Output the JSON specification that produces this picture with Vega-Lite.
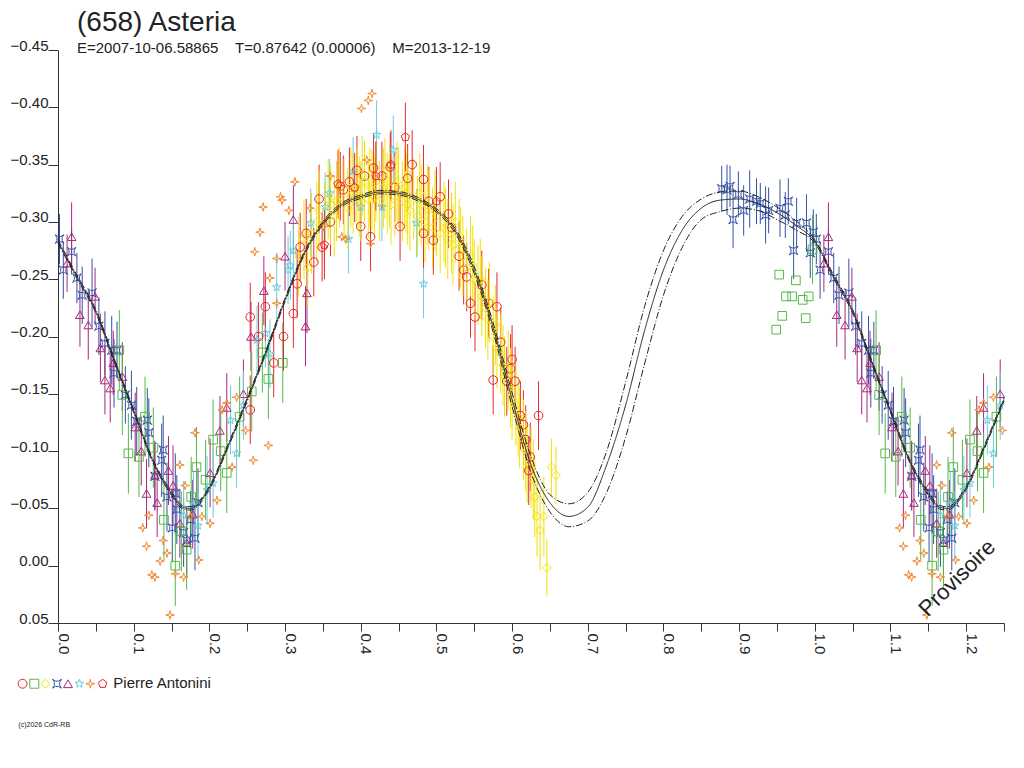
{
  "$schema": "https://vega.github.io/schema/vega-lite/v6.json",
  "autosize": "none",
  "padding": {"left": 58, "top": 50, "right": 20, "bottom": 145},
  "width": 946,
  "height": 573,
  "background": "white",
  "title": {
    "text": "(658) Asteria",
    "subtitle": "E=2007-10-06.58865\u00a0\u00a0\u00a0\u00a0T=0.87642 (0.00006)\u00a0\u00a0\u00a0\u00a0M=2013-12-19",
    "anchor": "start",
    "frame": "group",
    "dx": 19,
    "offset": -18,
    "font": "Liberation Sans",
    "fontSize": 28,
    "fontWeight": "normal",
    "color": "#222",
    "subtitleFont": "Liberation Sans",
    "subtitleFontSize": 15,
    "subtitleColor": "#222",
    "subtitlePadding": 4
  },
  "config": {
    "view": {"stroke": null},
    "axis": {
      "grid": false,
      "domainColor": "#333",
      "tickColor": "#333",
      "labelColor": "#222",
      "labelFont": "Liberation Sans",
      "labelFontSize": 15,
      "labelFlush": false,
      "labelOverlap": false
    }
  },
  "datasets": {
    "obs": [
      {"p":0.002,"m":-0.285,"e":0.022,"s":"d"},{"p":0.007,"m":-0.258,"e":0.025,"s":"d"},{"p":0.018,"m":-0.274,"e":0.02,"s":"d"},
      {"p":0.025,"m":-0.251,"e":0.022,"s":"d"},{"p":0.032,"m":-0.236,"e":0.025,"s":"d"},{"p":0.045,"m":-0.238,"e":0.03,"s":"d"},
      {"p":0.054,"m":-0.209,"e":0.025,"s":"d"},{"p":0.062,"m":-0.194,"e":0.028,"s":"d"},{"p":0.071,"m":-0.188,"e":0.03,"s":"d"},
      {"p":0.078,"m":-0.188,"e":0.025,"s":"d"},{"p":0.074,"m":-0.168,"e":0.03,"s":"d"},{"p":0.089,"m":-0.149,"e":0.025,"s":"d"},
      {"p":0.097,"m":-0.14,"e":0.03,"s":"d"},{"p":0.104,"m":-0.126,"e":0.03,"s":"d"},{"p":0.118,"m":-0.127,"e":0.028,"s":"d"},
      {"p":0.12,"m":-0.116,"e":0.03,"s":"d"},{"p":0.128,"m":-0.078,"e":0.03,"s":"d"},{"p":0.137,"m":-0.092,"e":0.032,"s":"d"},
      {"p":0.139,"m":-0.101,"e":0.03,"s":"d"},{"p":0.144,"m":-0.06,"e":0.03,"s":"d"},{"p":0.151,"m":-0.033,"e":0.03,"s":"d"},
      {"p":0.155,"m":-0.063,"e":0.035,"s":"d"},{"p":0.157,"m":-0.049,"e":0.03,"s":"d"},{"p":0.166,"m":-0.029,"e":0.03,"s":"d"},
      {"p":0.17,"m":-0.022,"e":0.03,"s":"d"},{"p":0.175,"m":-0.04,"e":0.025,"s":"d"},{"p":0.181,"m":-0.024,"e":0.028,"s":"d"},
      {"p":0.185,"m":-0.055,"e":0.03,"s":"d"},
      {"p":0.877,"m":-0.329,"e":0.02,"s":"d"},{"p":0.884,"m":-0.328,"e":0.022,"s":"d"},{"p":0.888,"m":-0.331,"e":0.018,"s":"d"},
      {"p":0.892,"m":-0.302,"e":0.025,"s":"d"},{"p":0.899,"m":-0.324,"e":0.02,"s":"d"},{"p":0.906,"m":-0.31,"e":0.022,"s":"d"},
      {"p":0.914,"m":-0.32,"e":0.025,"s":"d"},{"p":0.923,"m":-0.318,"e":0.02,"s":"d"},{"p":0.928,"m":-0.316,"e":0.018,"s":"d"},
      {"p":0.935,"m":-0.306,"e":0.025,"s":"d"},{"p":0.939,"m":-0.31,"e":0.02,"s":"d"},{"p":0.954,"m":-0.312,"e":0.025,"s":"d"},
      {"p":0.961,"m":-0.306,"e":0.02,"s":"d"},{"p":0.965,"m":-0.318,"e":0.02,"s":"d"},{"p":0.972,"m":-0.275,"e":0.025,"s":"d"},
      {"p":0.976,"m":-0.299,"e":0.022,"s":"d"},{"p":0.989,"m":-0.299,"e":0.025,"s":"d"},{"p":0.994,"m":-0.273,"e":0.022,"s":"d"},
      {"p":0.998,"m":-0.291,"e":0.02,"s":"d"},
      {"p":1.002,"m":-0.285,"e":0.022,"s":"d"},{"p":1.007,"m":-0.258,"e":0.025,"s":"d"},{"p":1.018,"m":-0.274,"e":0.02,"s":"d"},
      {"p":1.025,"m":-0.251,"e":0.022,"s":"d"},{"p":1.032,"m":-0.236,"e":0.025,"s":"d"},{"p":1.045,"m":-0.238,"e":0.03,"s":"d"},
      {"p":1.054,"m":-0.209,"e":0.025,"s":"d"},{"p":1.062,"m":-0.194,"e":0.028,"s":"d"},{"p":1.071,"m":-0.188,"e":0.03,"s":"d"},
      {"p":1.078,"m":-0.188,"e":0.025,"s":"d"},{"p":1.074,"m":-0.168,"e":0.03,"s":"d"},{"p":1.089,"m":-0.149,"e":0.025,"s":"d"},
      {"p":1.097,"m":-0.14,"e":0.03,"s":"d"},{"p":1.104,"m":-0.126,"e":0.03,"s":"d"},{"p":1.118,"m":-0.127,"e":0.028,"s":"d"},
      {"p":1.12,"m":-0.116,"e":0.03,"s":"d"},{"p":1.128,"m":-0.078,"e":0.03,"s":"d"},{"p":1.137,"m":-0.092,"e":0.032,"s":"d"},
      {"p":1.139,"m":-0.101,"e":0.03,"s":"d"},{"p":1.144,"m":-0.06,"e":0.03,"s":"d"},{"p":1.151,"m":-0.033,"e":0.03,"s":"d"},
      {"p":1.155,"m":-0.063,"e":0.035,"s":"d"},{"p":1.157,"m":-0.049,"e":0.03,"s":"d"},{"p":1.166,"m":-0.029,"e":0.03,"s":"d"},
      {"p":1.17,"m":-0.022,"e":0.03,"s":"d"},{"p":1.175,"m":-0.04,"e":0.025,"s":"d"},{"p":1.181,"m":-0.024,"e":0.028,"s":"d"},
      {"p":1.185,"m":-0.055,"e":0.03,"s":"d"},

      {"p":0.012,"m":-0.264,"e":0.025,"s":"f"},{"p":0.018,"m":-0.287,"e":0.03,"s":"f"},{"p":0.029,"m":-0.219,"e":0.028,"s":"f"},
      {"p":0.04,"m":-0.21,"e":0.03,"s":"f"},{"p":0.049,"m":-0.235,"e":0.025,"s":"f"},{"p":0.056,"m":-0.19,"e":0.03,"s":"f"},
      {"p":0.062,"m":-0.162,"e":0.03,"s":"f"},{"p":0.069,"m":-0.155,"e":0.03,"s":"f"},{"p":0.073,"m":-0.177,"e":0.028,"s":"f"},
      {"p":0.085,"m":-0.165,"e":0.03,"s":"f"},{"p":0.102,"m":-0.121,"e":0.03,"s":"f"},{"p":0.11,"m":-0.1,"e":0.03,"s":"f"},
      {"p":0.117,"m":-0.063,"e":0.03,"s":"f"},{"p":0.128,"m":-0.079,"e":0.03,"s":"f"},{"p":0.131,"m":-0.055,"e":0.03,"s":"f"},
      {"p":0.146,"m":-0.083,"e":0.03,"s":"f"},{"p":0.152,"m":-0.07,"e":0.035,"s":"f"},{"p":0.161,"m":-0.037,"e":0.03,"s":"f"},
      {"p":0.17,"m":-0.02,"e":0.03,"s":"f"},{"p":0.178,"m":-0.045,"e":0.03,"s":"f"},{"p":0.201,"m":-0.081,"e":0.03,"s":"f"},
      {"p":0.214,"m":-0.118,"e":0.03,"s":"f"},{"p":0.223,"m":-0.138,"e":0.03,"s":"f"},{"p":0.245,"m":-0.15,"e":0.03,"s":"f"},
      {"p":0.255,"m":-0.2,"e":0.03,"s":"f"},{"p":0.272,"m":-0.24,"e":0.03,"s":"f"},{"p":0.3,"m":-0.27,"e":0.03,"s":"f"},
      {"p":0.311,"m":-0.302,"e":0.03,"s":"f"},{"p":0.327,"m":-0.209,"e":0.035,"s":"f"},{"p":0.329,"m":-0.238,"e":0.035,"s":"f"},
      {"p":1.012,"m":-0.264,"e":0.025,"s":"f"},{"p":1.018,"m":-0.287,"e":0.03,"s":"f"},{"p":1.029,"m":-0.219,"e":0.028,"s":"f"},
      {"p":1.04,"m":-0.21,"e":0.03,"s":"f"},{"p":1.049,"m":-0.235,"e":0.025,"s":"f"},{"p":1.056,"m":-0.19,"e":0.03,"s":"f"},
      {"p":1.062,"m":-0.162,"e":0.03,"s":"f"},{"p":1.069,"m":-0.155,"e":0.03,"s":"f"},{"p":1.073,"m":-0.177,"e":0.028,"s":"f"},
      {"p":1.085,"m":-0.165,"e":0.03,"s":"f"},{"p":1.102,"m":-0.121,"e":0.03,"s":"f"},{"p":1.11,"m":-0.1,"e":0.03,"s":"f"},
      {"p":1.117,"m":-0.063,"e":0.03,"s":"f"},{"p":1.128,"m":-0.079,"e":0.03,"s":"f"},{"p":1.131,"m":-0.055,"e":0.03,"s":"f"},
      {"p":1.146,"m":-0.083,"e":0.03,"s":"f"},{"p":1.152,"m":-0.07,"e":0.035,"s":"f"},{"p":1.161,"m":-0.037,"e":0.03,"s":"f"},
      {"p":1.17,"m":-0.02,"e":0.03,"s":"f"},{"p":1.178,"m":-0.045,"e":0.03,"s":"f"},{"p":1.201,"m":-0.081,"e":0.03,"s":"f"},
      {"p":1.214,"m":-0.118,"e":0.03,"s":"f"},{"p":1.223,"m":-0.138,"e":0.03,"s":"f"},{"p":1.245,"m":-0.15,"e":0.03,"s":"f"},

      {"p":0.081,"m":-0.188,"e":0.035,"s":"b"},{"p":0.085,"m":-0.149,"e":0.035,"s":"b"},{"p":0.093,"m":-0.098,"e":0.035,"s":"b"},
      {"p":0.107,"m":-0.095,"e":0.035,"s":"b"},{"p":0.115,"m":-0.13,"e":0.035,"s":"b"},{"p":0.126,"m":-0.103,"e":0.035,"s":"b"},
      {"p":0.14,"m":-0.04,"e":0.035,"s":"b"},{"p":0.155,"m":0.0,"e":0.035,"s":"b"},{"p":0.163,"m":-0.03,"e":0.035,"s":"b"},
      {"p":0.17,"m":-0.014,"e":0.035,"s":"b"},{"p":0.176,"m":-0.06,"e":0.035,"s":"b"},{"p":0.183,"m":-0.086,"e":0.035,"s":"b"},
      {"p":0.195,"m":-0.075,"e":0.035,"s":"b"},{"p":0.205,"m":-0.11,"e":0.035,"s":"b"},{"p":0.215,"m":-0.1,"e":0.035,"s":"b"},
      {"p":0.223,"m":-0.081,"e":0.035,"s":"b"},{"p":0.24,"m":-0.13,"e":0.035,"s":"b"},
      {"p":0.256,"m":-0.152,"e":0.035,"s":"b"},{"p":0.27,"m":-0.186,"e":0.035,"s":"b"},{"p":0.278,"m":-0.163,"e":0.035,"s":"b"},
      {"p":0.297,"m":-0.177,"e":0.035,"s":"b"},{"p":0.997,"m":-0.276,"e":0.03,"s":"b"},
      {"p":0.949,"m":-0.206,"e":0,"s":"b"},{"p":0.953,"m":-0.254,"e":0,"s":"b"},{"p":0.957,"m":-0.218,"e":0,"s":"b"},
      {"p":0.962,"m":-0.235,"e":0,"s":"b"},{"p":0.97,"m":-0.235,"e":0,"s":"b"},{"p":0.975,"m":-0.249,"e":0,"s":"b"},
      {"p":0.984,"m":-0.232,"e":0,"s":"b"},{"p":0.988,"m":-0.216,"e":0,"s":"b"},{"p":0.992,"m":-0.235,"e":0,"s":"b"},
      {"p":1.081,"m":-0.188,"e":0.035,"s":"b"},{"p":1.085,"m":-0.149,"e":0.035,"s":"b"},{"p":1.093,"m":-0.098,"e":0.035,"s":"b"},
      {"p":1.107,"m":-0.095,"e":0.035,"s":"b"},{"p":1.115,"m":-0.13,"e":0.035,"s":"b"},{"p":1.126,"m":-0.103,"e":0.035,"s":"b"},
      {"p":1.14,"m":-0.04,"e":0.035,"s":"b"},{"p":1.155,"m":0.0,"e":0.035,"s":"b"},{"p":1.163,"m":-0.03,"e":0.035,"s":"b"},
      {"p":1.17,"m":-0.014,"e":0.035,"s":"b"},{"p":1.176,"m":-0.06,"e":0.035,"s":"b"},{"p":1.183,"m":-0.086,"e":0.035,"s":"b"},
      {"p":1.195,"m":-0.075,"e":0.035,"s":"b"},{"p":1.205,"m":-0.11,"e":0.035,"s":"b"},{"p":1.215,"m":-0.1,"e":0.035,"s":"b"},
      {"p":1.223,"m":-0.081,"e":0.035,"s":"b"},{"p":1.24,"m":-0.13,"e":0.035,"s":"b"},

      {"p":0.166,"m":-0.044,"e":0.03,"s":"g"},{"p":0.179,"m":-0.053,"e":0.03,"s":"g"},{"p":0.185,"m":-0.035,"e":0.03,"s":"g"},
      {"p":0.197,"m":-0.066,"e":0.03,"s":"g"},{"p":0.205,"m":-0.072,"e":0.03,"s":"g"},{"p":0.228,"m":-0.127,"e":0.03,"s":"g"},
      {"p":0.236,"m":-0.098,"e":0.03,"s":"g"},{"p":0.245,"m":-0.14,"e":0.03,"s":"g"},{"p":0.263,"m":-0.197,"e":0.03,"s":"g"},
      {"p":0.274,"m":-0.203,"e":0.03,"s":"g"},{"p":0.28,"m":-0.185,"e":0.03,"s":"g"},{"p":0.289,"m":-0.243,"e":0.03,"s":"g"},
      {"p":0.304,"m":-0.258,"e":0.03,"s":"g"},{"p":0.307,"m":-0.262,"e":0.03,"s":"g"},{"p":0.311,"m":-0.275,"e":0.03,"s":"g"},
      {"p":0.334,"m":-0.299,"e":0.03,"s":"g"},{"p":0.353,"m":-0.313,"e":0.03,"s":"g"},{"p":0.359,"m":-0.325,"e":0.03,"s":"g"},
      {"p":0.384,"m":-0.285,"e":0.03,"s":"g"},{"p":0.39,"m":-0.344,"e":0.03,"s":"g"},{"p":0.4,"m":-0.313,"e":0.03,"s":"g"},
      {"p":0.421,"m":-0.376,"e":0.03,"s":"g"},{"p":0.428,"m":-0.313,"e":0.03,"s":"g"},{"p":0.443,"m":-0.363,"e":0.03,"s":"g"},
      {"p":0.474,"m":-0.299,"e":0.03,"s":"g"},{"p":0.483,"m":-0.246,"e":0.03,"s":"g"},
      {"p":1.166,"m":-0.044,"e":0.03,"s":"g"},{"p":1.179,"m":-0.053,"e":0.03,"s":"g"},{"p":1.185,"m":-0.035,"e":0.03,"s":"g"},
      {"p":1.197,"m":-0.066,"e":0.03,"s":"g"},{"p":1.205,"m":-0.072,"e":0.03,"s":"g"},{"p":1.228,"m":-0.127,"e":0.03,"s":"g"},
      {"p":1.236,"m":-0.098,"e":0.03,"s":"g"},{"p":1.245,"m":-0.14,"e":0.03,"s":"g"},

      {"p":0.254,"m":-0.217,"e":0.03,"s":"a"},{"p":0.254,"m":-0.136,"e":0.03,"s":"a"},{"p":0.265,"m":-0.2,"e":0.03,"s":"a"},
      {"p":0.274,"m":-0.226,"e":0.03,"s":"a"},{"p":0.285,"m":-0.177,"e":0.03,"s":"a"},{"p":0.298,"m":-0.2,"e":0.03,"s":"a"},
      {"p":0.311,"m":-0.22,"e":0.03,"s":"a"},{"p":0.316,"m":-0.246,"e":0.03,"s":"a"},{"p":0.32,"m":-0.278,"e":0.03,"s":"a"},
      {"p":0.338,"m":-0.265,"e":0.03,"s":"a"},{"p":0.349,"m":-0.278,"e":0.03,"s":"a"},{"p":0.36,"m":-0.3,"e":0.03,"s":"a"},
      {"p":0.373,"m":-0.331,"e":0.03,"s":"a"},{"p":0.377,"m":-0.328,"e":0.03,"s":"a"},{"p":0.395,"m":-0.345,"e":0.03,"s":"a"},
      {"p":0.4,"m":-0.296,"e":0.03,"s":"a"},{"p":0.413,"m":-0.287,"e":0.03,"s":"a"},{"p":0.417,"m":-0.347,"e":0.03,"s":"a"},
      {"p":0.439,"m":-0.348,"e":0.03,"s":"a"},{"p":0.452,"m":-0.296,"e":0.03,"s":"a"},{"p":0.468,"m":-0.35,"e":0.03,"s":"a"},
      {"p":0.483,"m":-0.337,"e":0.03,"s":"a"},{"p":0.483,"m":-0.29,"e":0.03,"s":"a"},{"p":0.496,"m":-0.284,"e":0.03,"s":"a"},
      {"p":0.505,"m":-0.322,"e":0.03,"s":"a"},{"p":0.516,"m":-0.307,"e":0.03,"s":"a"},{"p":0.536,"m":-0.258,"e":0.03,"s":"a"},
      {"p":0.54,"m":-0.252,"e":0.03,"s":"a"},{"p":0.545,"m":-0.229,"e":0.03,"s":"a"},{"p":0.551,"m":-0.217,"e":0.03,"s":"a"},
      {"p":0.569,"m":-0.229,"e":0.03,"s":"a"},{"p":0.575,"m":-0.162,"e":0.03,"s":"a"},{"p":0.58,"m":-0.226,"e":0.03,"s":"a"},
      {"p":0.593,"m":-0.161,"e":0.03,"s":"a"},{"p":0.598,"m":-0.172,"e":0.03,"s":"a"},{"p":0.604,"m":-0.161,"e":0.03,"s":"a"},
      {"p":0.611,"m":-0.131,"e":0.03,"s":"a"},{"p":0.615,"m":-0.123,"e":0.03,"s":"a"},{"p":0.622,"m":-0.083,"e":0.03,"s":"a"},
      {"p":0.624,"m":-0.095,"e":0.03,"s":"a"},{"p":0.635,"m":-0.131,"e":0.03,"s":"a"},
      {"p":0.328,"m":-0.29,"e":0.03,"s":"a"},{"p":0.345,"m":-0.32,"e":0.03,"s":"a"},{"p":0.385,"m":-0.335,"e":0.03,"s":"a"},
      {"p":0.405,"m":-0.34,"e":0.03,"s":"a"},{"p":0.428,"m":-0.34,"e":0.03,"s":"a"},{"p":0.445,"m":-0.33,"e":0.03,"s":"a"},
      {"p":0.462,"m":-0.338,"e":0.03,"s":"a"},{"p":0.49,"m":-0.318,"e":0.03,"s":"a"},{"p":0.52,"m":-0.295,"e":0.03,"s":"a"},
      {"p":0.53,"m":-0.27,"e":0.03,"s":"a"},{"p":0.56,"m":-0.245,"e":0.03,"s":"a"},{"p":0.585,"m":-0.195,"e":0.03,"s":"a"},
      {"p":0.6,"m":-0.18,"e":0.03,"s":"a"},{"p":0.618,"m":-0.11,"e":0.03,"s":"a"},

      {"p":0.318,"m":-0.27,"e":0.035,"s":"c"},{"p":0.325,"m":-0.285,"e":0.035,"s":"c"},{"p":0.33,"m":-0.26,"e":0.035,"s":"c"},
      {"p":0.335,"m":-0.29,"e":0.035,"s":"c"},{"p":0.345,"m":-0.31,"e":0.035,"s":"c"},{"p":0.352,"m":-0.3,"e":0.035,"s":"c"},
      {"p":0.36,"m":-0.315,"e":0.035,"s":"c"},{"p":0.365,"m":-0.305,"e":0.035,"s":"c"},{"p":0.372,"m":-0.33,"e":0.035,"s":"c"},
      {"p":0.378,"m":-0.32,"e":0.035,"s":"c"},{"p":0.383,"m":-0.312,"e":0.035,"s":"c"},{"p":0.39,"m":-0.325,"e":0.035,"s":"c"},
      {"p":0.395,"m":-0.33,"e":0.035,"s":"c"},{"p":0.4,"m":-0.318,"e":0.035,"s":"c"},{"p":0.405,"m":-0.335,"e":0.035,"s":"c"},
      {"p":0.41,"m":-0.32,"e":0.035,"s":"c"},{"p":0.415,"m":-0.328,"e":0.035,"s":"c"},{"p":0.42,"m":-0.335,"e":0.035,"s":"c"},
      {"p":0.425,"m":-0.318,"e":0.035,"s":"c"},{"p":0.43,"m":-0.33,"e":0.035,"s":"c"},{"p":0.435,"m":-0.325,"e":0.035,"s":"c"},
      {"p":0.44,"m":-0.315,"e":0.035,"s":"c"},{"p":0.445,"m":-0.322,"e":0.035,"s":"c"},{"p":0.45,"m":-0.33,"e":0.035,"s":"c"},
      {"p":0.455,"m":-0.318,"e":0.035,"s":"c"},{"p":0.46,"m":-0.325,"e":0.035,"s":"c"},{"p":0.465,"m":-0.31,"e":0.035,"s":"c"},
      {"p":0.47,"m":-0.32,"e":0.035,"s":"c"},{"p":0.475,"m":-0.305,"e":0.035,"s":"c"},{"p":0.48,"m":-0.315,"e":0.035,"s":"c"},
      {"p":0.485,"m":-0.3,"e":0.035,"s":"c"},{"p":0.49,"m":-0.31,"e":0.035,"s":"c"},{"p":0.495,"m":-0.295,"e":0.035,"s":"c"},
      {"p":0.5,"m":-0.305,"e":0.035,"s":"c"},{"p":0.505,"m":-0.29,"e":0.035,"s":"c"},{"p":0.51,"m":-0.3,"e":0.035,"s":"c"},
      {"p":0.515,"m":-0.285,"e":0.035,"s":"c"},{"p":0.52,"m":-0.29,"e":0.035,"s":"c"},{"p":0.525,"m":-0.3,"e":0.035,"s":"c"},
      {"p":0.53,"m":-0.285,"e":0.035,"s":"c"},{"p":0.535,"m":-0.27,"e":0.035,"s":"c"},{"p":0.54,"m":-0.26,"e":0.035,"s":"c"},
      {"p":0.545,"m":-0.27,"e":0.035,"s":"c"},{"p":0.55,"m":-0.25,"e":0.035,"s":"c"},{"p":0.555,"m":-0.245,"e":0.035,"s":"c"},
      {"p":0.56,"m":-0.235,"e":0.035,"s":"c"},{"p":0.565,"m":-0.225,"e":0.035,"s":"c"},{"p":0.57,"m":-0.23,"e":0.035,"s":"c"},
      {"p":0.575,"m":-0.2,"e":0.035,"s":"c"},{"p":0.58,"m":-0.19,"e":0.035,"s":"c"},{"p":0.585,"m":-0.185,"e":0.035,"s":"c"},
      {"p":0.59,"m":-0.165,"e":0.035,"s":"c"},{"p":0.595,"m":-0.17,"e":0.035,"s":"c"},{"p":0.6,"m":-0.145,"e":0.035,"s":"c"},
      {"p":0.605,"m":-0.14,"e":0.035,"s":"c"},{"p":0.61,"m":-0.12,"e":0.035,"s":"c"},{"p":0.615,"m":-0.11,"e":0.035,"s":"c"},
      {"p":0.62,"m":-0.09,"e":0.035,"s":"c"},{"p":0.625,"m":-0.085,"e":0.035,"s":"c"},{"p":0.628,"m":-0.075,"e":0.035,"s":"c"},
      {"p":0.633,"m":-0.043,"e":0.035,"s":"c"},{"p":0.637,"m":-0.031,"e":0.035,"s":"c"},{"p":0.642,"m":-0.043,"e":0.035,"s":"c"},
      {"p":0.646,"m":0.002,"e":0.025,"s":"c"},{"p":0.652,"m":-0.086,"e":0.025,"s":"c"},{"p":0.658,"m":-0.079,"e":0.025,"s":"c"},
      {"p":0.342,"m":-0.3,"e":0.035,"s":"c"},{"p":0.357,"m":-0.32,"e":0.035,"s":"c"},{"p":0.368,"m":-0.318,"e":0.035,"s":"c"},
      {"p":0.387,"m":-0.33,"e":0.035,"s":"c"},{"p":0.398,"m":-0.322,"e":0.035,"s":"c"},{"p":0.402,"m":-0.34,"e":0.035,"s":"c"},
      {"p":0.412,"m":-0.33,"e":0.035,"s":"c"},{"p":0.418,"m":-0.322,"e":0.035,"s":"c"},{"p":0.432,"m":-0.338,"e":0.035,"s":"c"},
      {"p":0.438,"m":-0.33,"e":0.035,"s":"c"},{"p":0.448,"m":-0.335,"e":0.035,"s":"c"},{"p":0.458,"m":-0.33,"e":0.035,"s":"c"},
      {"p":0.462,"m":-0.315,"e":0.035,"s":"c"},{"p":0.478,"m":-0.325,"e":0.035,"s":"c"},{"p":0.488,"m":-0.315,"e":0.035,"s":"c"},
      {"p":0.498,"m":-0.31,"e":0.035,"s":"c"},{"p":0.512,"m":-0.295,"e":0.035,"s":"c"},{"p":0.522,"m":-0.28,"e":0.035,"s":"c"},
      {"p":0.532,"m":-0.278,"e":0.035,"s":"c"},{"p":0.548,"m":-0.262,"e":0.035,"s":"c"},{"p":0.558,"m":-0.25,"e":0.035,"s":"c"},
      {"p":0.568,"m":-0.215,"e":0.035,"s":"c"},{"p":0.578,"m":-0.21,"e":0.035,"s":"c"},{"p":0.588,"m":-0.175,"e":0.035,"s":"c"},
      {"p":0.598,"m":-0.155,"e":0.035,"s":"c"},{"p":0.608,"m":-0.13,"e":0.035,"s":"c"},{"p":0.618,"m":-0.1,"e":0.035,"s":"c"},
      {"p":0.63,"m":-0.06,"e":0.035,"s":"c"},

      {"p":0.112,"m":-0.033,"e":0,"s":"h"},{"p":0.117,"m":-0.017,"e":0,"s":"h"},{"p":0.12,"m":-0.044,"e":0,"s":"h"},
      {"p":0.124,"m":0.008,"e":0,"s":"h"},{"p":0.128,"m":0.01,"e":0,"s":"h"},{"p":0.135,"m":-0.004,"e":0,"s":"h"},
      {"p":0.139,"m":-0.022,"e":0,"s":"h"},{"p":0.144,"m":-0.011,"e":0,"s":"h"},{"p":0.148,"m":0.043,"e":0,"s":"h"},
      {"p":0.155,"m":0.007,"e":0,"s":"h"},{"p":0.161,"m":-0.088,"e":0,"s":"h"},{"p":0.166,"m":0.01,"e":0,"s":"h"},
      {"p":0.168,"m":-0.07,"e":0,"s":"h"},{"p":0.175,"m":-0.043,"e":0,"s":"h"},{"p":0.181,"m":-0.116,"e":0,"s":"h"},
      {"p":0.186,"m":-0.005,"e":0,"s":"h"},{"p":0.19,"m":-0.043,"e":0,"s":"h"},{"p":0.201,"m":-0.037,"e":0,"s":"h"},
      {"p":0.21,"m":-0.057,"e":0,"s":"h"},{"p":0.217,"m":-0.136,"e":0,"s":"h"},{"p":0.223,"m":-0.142,"e":0,"s":"h"},
      {"p":0.23,"m":-0.086,"e":0,"s":"h"},{"p":0.236,"m":-0.147,"e":0,"s":"h"},{"p":0.248,"m":-0.118,"e":0,"s":"h"},
      {"p":0.258,"m":-0.092,"e":0,"s":"h"},{"p":0.26,"m":-0.274,"e":0,"s":"h"},{"p":0.267,"m":-0.291,"e":0,"s":"h"},
      {"p":0.271,"m":-0.313,"e":0,"s":"h"},{"p":0.278,"m":-0.105,"e":0,"s":"h"},{"p":0.28,"m":-0.251,"e":0,"s":"h"},
      {"p":0.289,"m":-0.268,"e":0,"s":"h"},{"p":0.289,"m":-0.229,"e":0,"s":"h"},{"p":0.294,"m":-0.322,"e":0,"s":"h"},
      {"p":0.296,"m":-0.319,"e":0,"s":"h"},{"p":0.305,"m":-0.31,"e":0,"s":"h"},{"p":0.313,"m":-0.335,"e":0,"s":"h"},
      {"p":0.333,"m":-0.312,"e":0,"s":"h"},{"p":0.351,"m":-0.296,"e":0,"s":"h"},{"p":0.36,"m":-0.34,"e":0,"s":"h"},
      {"p":0.375,"m":-0.287,"e":0,"s":"h"},{"p":0.38,"m":-0.285,"e":0,"s":"h"},{"p":0.401,"m":-0.399,"e":0,"s":"h"},
      {"p":0.408,"m":-0.354,"e":0,"s":"h"},{"p":0.41,"m":-0.406,"e":0,"s":"h"},{"p":0.413,"m":-0.281,"e":0,"s":"h"},
      {"p":0.415,"m":-0.412,"e":0,"s":"h"},
      {"p":1.112,"m":-0.033,"e":0,"s":"h"},{"p":1.117,"m":-0.017,"e":0,"s":"h"},{"p":1.12,"m":-0.044,"e":0,"s":"h"},
      {"p":1.124,"m":0.008,"e":0,"s":"h"},{"p":1.128,"m":0.01,"e":0,"s":"h"},{"p":1.135,"m":-0.004,"e":0,"s":"h"},
      {"p":1.139,"m":-0.022,"e":0,"s":"h"},{"p":1.144,"m":-0.011,"e":0,"s":"h"},{"p":1.148,"m":0.043,"e":0,"s":"h"},
      {"p":1.155,"m":0.007,"e":0,"s":"h"},{"p":1.161,"m":-0.088,"e":0,"s":"h"},{"p":1.166,"m":0.01,"e":0,"s":"h"},
      {"p":1.168,"m":-0.07,"e":0,"s":"h"},{"p":1.175,"m":-0.043,"e":0,"s":"h"},{"p":1.181,"m":-0.116,"e":0,"s":"h"},
      {"p":1.186,"m":-0.005,"e":0,"s":"h"},{"p":1.19,"m":-0.043,"e":0,"s":"h"},{"p":1.201,"m":-0.037,"e":0,"s":"h"},
      {"p":1.21,"m":-0.057,"e":0,"s":"h"},{"p":1.217,"m":-0.136,"e":0,"s":"h"},{"p":1.223,"m":-0.142,"e":0,"s":"h"},
      {"p":1.23,"m":-0.086,"e":0,"s":"h"},{"p":1.236,"m":-0.147,"e":0,"s":"h"},{"p":1.248,"m":-0.118,"e":0,"s":"h"},

      {"p":0.352,"m":-0.28,"e":0.03,"s":"i"},{"p":0.37,"m":-0.333,"e":0.03,"s":"i"},{"p":0.392,"m":-0.33,"e":0.03,"s":"i"},
      {"p":0.42,"m":-0.34,"e":0.03,"s":"i"},{"p":0.44,"m":-0.35,"e":0.03,"s":"i"},{"p":0.459,"m":-0.374,"e":0.03,"s":"i"},
      {"p":0.5,"m":-0.318,"e":0.03,"s":"i"}
    ],
    "fit": [
      {"p":0,"v":-0.283,"k":"m"},{"p":0.025,"v":-0.252,"k":"m"},{"p":0.05,"v":-0.222,"k":"m"},{"p":0.075,"v":-0.178,"k":"m"},
      {"p":0.1,"v":-0.135,"k":"m"},{"p":0.125,"v":-0.092,"k":"m"},{"p":0.15,"v":-0.063,"k":"m"},{"p":0.165,"v":-0.051,"k":"m"},
      {"p":0.175,"v":-0.05,"k":"m"},{"p":0.2,"v":-0.068,"k":"m"},{"p":0.225,"v":-0.105,"k":"m"},{"p":0.25,"v":-0.145,"k":"m"},
      {"p":0.275,"v":-0.187,"k":"m"},{"p":0.3,"v":-0.232,"k":"m"},{"p":0.325,"v":-0.272,"k":"m"},{"p":0.35,"v":-0.299,"k":"m"},
      {"p":0.375,"v":-0.315,"k":"m"},{"p":0.4,"v":-0.322,"k":"m"},{"p":0.425,"v":-0.326,"k":"m"},{"p":0.45,"v":-0.325,"k":"m"},
      {"p":0.475,"v":-0.32,"k":"m"},{"p":0.5,"v":-0.31,"k":"m"},{"p":0.525,"v":-0.292,"k":"m"},{"p":0.55,"v":-0.258,"k":"m"},
      {"p":0.575,"v":-0.208,"k":"m"},{"p":0.6,"v":-0.145,"k":"m"},{"p":0.625,"v":-0.088,"k":"m"},{"p":0.65,"v":-0.055,"k":"m"},
      {"p":0.675,"v":-0.043,"k":"m"},{"p":0.7,"v":-0.051,"k":"m"},{"p":0.725,"v":-0.088,"k":"m"},{"p":0.75,"v":-0.14,"k":"m"},
      {"p":0.775,"v":-0.205,"k":"m"},{"p":0.8,"v":-0.258,"k":"m"},{"p":0.825,"v":-0.293,"k":"m"},{"p":0.85,"v":-0.312,"k":"m"},
      {"p":0.875,"v":-0.319,"k":"m"},{"p":0.9,"v":-0.32,"k":"m"},{"p":0.925,"v":-0.316,"k":"m"},{"p":0.95,"v":-0.308,"k":"m"},
      {"p":0.975,"v":-0.297,"k":"m"},{"p":1,"v":-0.283,"k":"m"},{"p":1.025,"v":-0.252,"k":"m"},{"p":1.05,"v":-0.222,"k":"m"},
      {"p":1.075,"v":-0.178,"k":"m"},{"p":1.1,"v":-0.135,"k":"m"},{"p":1.125,"v":-0.092,"k":"m"},{"p":1.15,"v":-0.063,"k":"m"},
      {"p":1.165,"v":-0.051,"k":"m"},{"p":1.175,"v":-0.05,"k":"m"},{"p":1.2,"v":-0.068,"k":"m"},{"p":1.225,"v":-0.105,"k":"m"},
      {"p":1.25,"v":-0.145,"k":"m"},

      {"p":0,"v":-0.2845,"k":"u"},{"p":0.025,"v":-0.2535,"k":"u"},{"p":0.05,"v":-0.2235,"k":"u"},{"p":0.075,"v":-0.1795,"k":"u"},
      {"p":0.1,"v":-0.1365,"k":"u"},{"p":0.125,"v":-0.0935,"k":"u"},{"p":0.15,"v":-0.0645,"k":"u"},{"p":0.165,"v":-0.0525,"k":"u"},
      {"p":0.175,"v":-0.0515,"k":"u"},{"p":0.2,"v":-0.0695,"k":"u"},{"p":0.225,"v":-0.1065,"k":"u"},{"p":0.25,"v":-0.1465,"k":"u"},
      {"p":0.275,"v":-0.1885,"k":"u"},{"p":0.3,"v":-0.2335,"k":"u"},{"p":0.325,"v":-0.2735,"k":"u"},{"p":0.35,"v":-0.3005,"k":"u"},
      {"p":0.375,"v":-0.3165,"k":"u"},{"p":0.4,"v":-0.3235,"k":"u"},{"p":0.425,"v":-0.3275,"k":"u"},{"p":0.45,"v":-0.3265,"k":"u"},
      {"p":0.475,"v":-0.3215,"k":"u"},{"p":0.5,"v":-0.3115,"k":"u"},{"p":0.525,"v":-0.294,"k":"u"},{"p":0.55,"v":-0.261,"k":"u"},
      {"p":0.575,"v":-0.212,"k":"u"},{"p":0.6,"v":-0.151,"k":"u"},{"p":0.625,"v":-0.095,"k":"u"},{"p":0.65,"v":-0.062,"k":"u"},
      {"p":0.675,"v":-0.054,"k":"u"},{"p":0.7,"v":-0.064,"k":"u"},{"p":0.725,"v":-0.1,"k":"u"},{"p":0.75,"v":-0.16,"k":"u"},
      {"p":0.775,"v":-0.226,"k":"u"},{"p":0.8,"v":-0.275,"k":"u"},{"p":0.825,"v":-0.305,"k":"u"},{"p":0.85,"v":-0.32,"k":"u"},
      {"p":0.875,"v":-0.326,"k":"u"},{"p":0.9,"v":-0.327,"k":"u"},{"p":0.925,"v":-0.322,"k":"u"},{"p":0.95,"v":-0.313,"k":"u"},
      {"p":0.975,"v":-0.301,"k":"u"},{"p":1,"v":-0.2845,"k":"u"},{"p":1.025,"v":-0.2535,"k":"u"},{"p":1.05,"v":-0.2235,"k":"u"},
      {"p":1.075,"v":-0.1795,"k":"u"},{"p":1.1,"v":-0.1365,"k":"u"},{"p":1.125,"v":-0.0935,"k":"u"},{"p":1.15,"v":-0.0645,"k":"u"},
      {"p":1.165,"v":-0.0525,"k":"u"},{"p":1.175,"v":-0.0515,"k":"u"},{"p":1.2,"v":-0.0695,"k":"u"},{"p":1.225,"v":-0.1065,"k":"u"},
      {"p":1.25,"v":-0.1465,"k":"u"},

      {"p":0,"v":-0.2815,"k":"l"},{"p":0.025,"v":-0.2505,"k":"l"},{"p":0.05,"v":-0.2205,"k":"l"},{"p":0.075,"v":-0.1765,"k":"l"},
      {"p":0.1,"v":-0.1335,"k":"l"},{"p":0.125,"v":-0.0905,"k":"l"},{"p":0.15,"v":-0.0615,"k":"l"},{"p":0.165,"v":-0.0495,"k":"l"},
      {"p":0.175,"v":-0.0485,"k":"l"},{"p":0.2,"v":-0.0665,"k":"l"},{"p":0.225,"v":-0.1035,"k":"l"},{"p":0.25,"v":-0.1435,"k":"l"},
      {"p":0.275,"v":-0.1855,"k":"l"},{"p":0.3,"v":-0.2305,"k":"l"},{"p":0.325,"v":-0.2705,"k":"l"},{"p":0.35,"v":-0.2975,"k":"l"},
      {"p":0.375,"v":-0.3135,"k":"l"},{"p":0.4,"v":-0.3205,"k":"l"},{"p":0.425,"v":-0.3245,"k":"l"},{"p":0.45,"v":-0.3235,"k":"l"},
      {"p":0.475,"v":-0.3185,"k":"l"},{"p":0.5,"v":-0.3085,"k":"l"},{"p":0.525,"v":-0.29,"k":"l"},{"p":0.55,"v":-0.255,"k":"l"},
      {"p":0.575,"v":-0.204,"k":"l"},{"p":0.6,"v":-0.139,"k":"l"},{"p":0.625,"v":-0.081,"k":"l"},{"p":0.65,"v":-0.047,"k":"l"},
      {"p":0.675,"v":-0.034,"k":"l"},{"p":0.7,"v":-0.039,"k":"l"},{"p":0.725,"v":-0.064,"k":"l"},{"p":0.75,"v":-0.112,"k":"l"},
      {"p":0.775,"v":-0.176,"k":"l"},{"p":0.8,"v":-0.236,"k":"l"},{"p":0.825,"v":-0.278,"k":"l"},{"p":0.85,"v":-0.302,"k":"l"},
      {"p":0.875,"v":-0.309,"k":"l"},{"p":0.9,"v":-0.312,"k":"l"},{"p":0.925,"v":-0.31,"k":"l"},{"p":0.95,"v":-0.302,"k":"l"},
      {"p":0.975,"v":-0.293,"k":"l"},{"p":1,"v":-0.2815,"k":"l"},{"p":1.025,"v":-0.2505,"k":"l"},{"p":1.05,"v":-0.2205,"k":"l"},
      {"p":1.075,"v":-0.1765,"k":"l"},{"p":1.1,"v":-0.1335,"k":"l"},{"p":1.125,"v":-0.0905,"k":"l"},{"p":1.15,"v":-0.0615,"k":"l"},
      {"p":1.165,"v":-0.0495,"k":"l"},{"p":1.175,"v":-0.0485,"k":"l"},{"p":1.2,"v":-0.0665,"k":"l"},{"p":1.225,"v":-0.1035,"k":"l"},
      {"p":1.25,"v":-0.1435,"k":"l"}
    ],
    "legendrow": [
      {"p":-0.0468,"m":0.103,"s":"a"},{"p":-0.0313,"m":0.103,"s":"b"},{"p":-0.0167,"m":0.103,"s":"c"},
      {"p":-0.0013,"m":0.103,"s":"d"},{"p":0.0132,"m":0.103,"s":"f"},{"p":0.0282,"m":0.103,"s":"g"},
      {"p":0.0427,"m":0.103,"s":"h"},{"p":0.059,"m":0.103,"s":"i"}
    ],
    "notes": [
      {"p":1.188,"m":0.0107,"t":"Provisoire","k":"big"},
      {"p":0.0731,"m":0.1025,"t":"Pierre Antonini","k":"name"},
      {"p":-0.0524,"m":0.139,"t":"(c)2026 CdR-RB","k":"small"}
    ]
  },
  "encoding": {
    "x": {
      "field": "p",
      "type": "quantitative",
      "title": null,
      "scale": {"domain": [0, 1.25], "nice": false, "zero": false},
      "axis": {
        "title": null,
        "values": [0,0.05,0.1,0.15,0.2,0.25,0.3,0.35,0.4,0.45,0.5,0.55,0.6,0.65,0.7,0.75,0.8,0.85,0.9,0.95,1,1.05,1.1,1.15,1.2,1.25],
        "labelExpr": "abs(datum.value*10 - round(datum.value*10)) < 0.001 ? format(datum.value, '.1f') : ''",
        "labelAngle": 90,
        "labelAlign": "left",
        "labelBaseline": "alphabetic",
        "tickSize": 8,
        "labelPadding": 2
      }
    },
    "y": {
      "field": "m",
      "type": "quantitative",
      "title": null,
      "scale": {"domain": [-0.45, 0.05], "reverse": true, "nice": false, "zero": false},
      "axis": {
        "title": null,
        "values": [-0.45,-0.4,-0.35,-0.3,-0.25,-0.2,-0.15,-0.1,-0.05,0,0.05],
        "format": ".2f",
        "tickSize": 10,
        "labelPadding": 0,
        "labelBaseline": "alphabetic"
      }
    },
    "color": {
      "field": "s",
      "type": "nominal",
      "legend": null,
      "scale": {
        "domain": ["a","b","c","d","f","g","h","i"],
        "range": ["#e8262c","#55b947","#f2e200","#3551a4","#a8287c","#6ccbdc","#f28a30","#e8262c"]
      }
    }
  },
  "layer": [
    {
      "data": {"name": "obs"},
      "mark": {"type": "errorbar", "thickness": 1},
      "encoding": {
        "yError": {"field": "e"}
      }
    },
    {
      "data": {"name": "obs"},
      "mark": {"type": "point", "filled": false, "strokeWidth": 1, "size": 75, "opacity": 1},
      "encoding": {
        "shape": {
          "field": "s",
          "type": "nominal",
          "legend": null,
          "scale": {
            "domain": ["a","b","c","d","f","g","h","i"],
            "range": [
              "circle",
              "square",
              "diamond",
              "M-1,-1L-0.35,-0.6L0.35,-0.6L1,-1L0.6,-0.35L0.6,0.35L1,1L0.35,0.6L-0.35,0.6L-1,1L-0.6,0.35L-0.6,-0.35Z",
              "triangle-up",
              "M0,-1L0.235,-0.324L0.951,-0.309L0.38,0.124L0.588,0.809L0,0.4L-0.588,0.809L-0.38,0.124L-0.951,-0.309L-0.235,-0.324Z",
              "M0,-1L0.2,-0.2L1,0L0.2,0.2L0,1L-0.2,0.2L-1,0L-0.2,-0.2Z",
              "M0,-1L0.951,-0.309L0.588,0.809L-0.588,0.809L-0.951,-0.309Z"
            ]
          }
        }
      }
    },
    {
      "data": {"name": "legendrow"},
      "mark": {"type": "point", "filled": false, "strokeWidth": 1, "size": 80, "opacity": 1},
      "encoding": {
        "shape": {"field": "s", "type": "nominal", "legend": null}
      }
    },
    {
      "data": {"name": "fit"},
      "mark": {"type": "line", "interpolate": "monotone", "color": "#222", "strokeWidth": 1},
      "encoding": {
        "y": {"field": "v", "type": "quantitative"},
        "color": {"value": "#222"},
        "detail": {"field": "k", "type": "nominal"},
        "strokeDash": {
          "field": "k",
          "type": "nominal",
          "scale": {"domain": ["m","u","l"], "range": [[1,0],[7,2,1,2],[7,2,1,2]]},
          "legend": null
        }
      }
    },
    {
      "data": {"name": "notes"},
      "transform": [{"filter": "datum.k == 'big'"}],
      "mark": {"type": "text", "angle": 315, "align": "center", "baseline": "middle", "font": "Liberation Sans", "fontSize": 22},
      "encoding": {
        "color": {"value": "#222"},
        "text": {"field": "t", "type": "nominal"}
      }
    },
    {
      "data": {"name": "notes"},
      "transform": [{"filter": "datum.k == 'name'"}],
      "mark": {"type": "text", "align": "left", "baseline": "middle", "font": "Liberation Sans", "fontSize": 15},
      "encoding": {
        "color": {"value": "#222"},
        "text": {"field": "t", "type": "nominal"}
      }
    },
    {
      "data": {"name": "notes"},
      "transform": [{"filter": "datum.k == 'small'"}],
      "mark": {"type": "text", "align": "left", "baseline": "middle", "font": "Liberation Sans", "fontSize": 7},
      "encoding": {
        "color": {"value": "#222"},
        "text": {"field": "t", "type": "nominal"}
      }
    }
  ]
}
